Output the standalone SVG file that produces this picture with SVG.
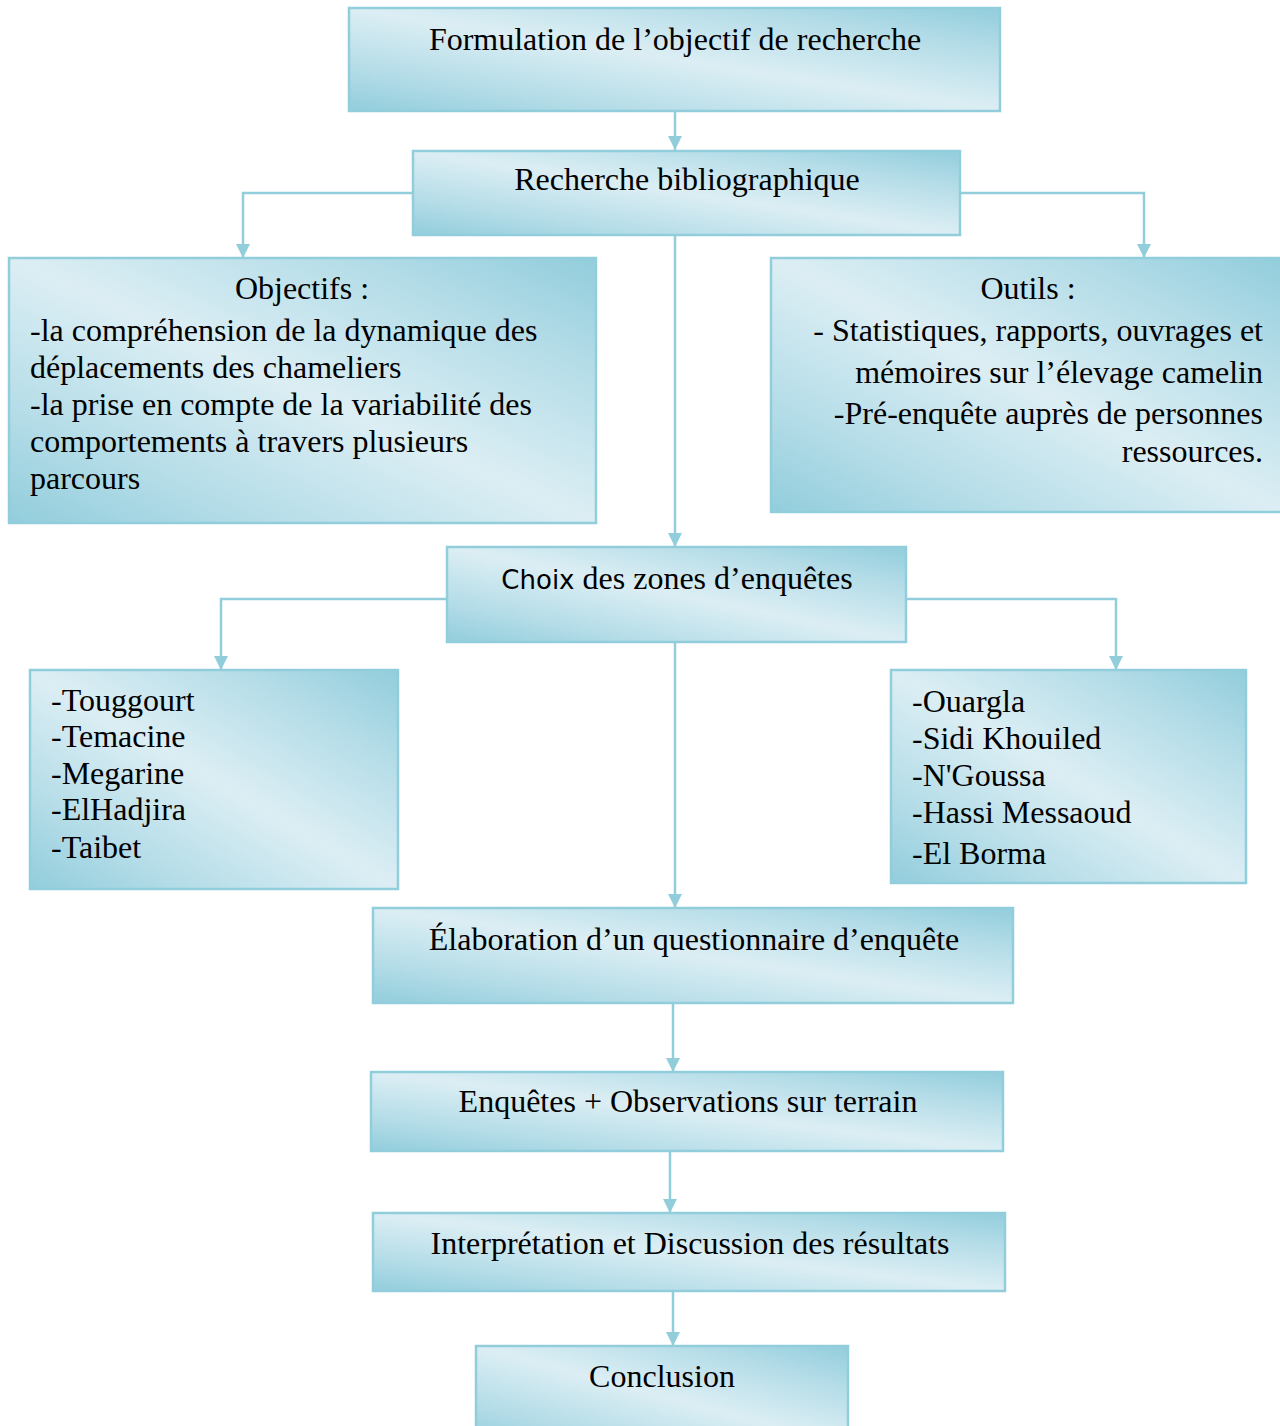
<svg xmlns="http://www.w3.org/2000/svg" width="1280" height="1426" viewBox="0 0 1280 1426">
<defs>
<linearGradient id="grad" x1="1" y1="0" x2="0" y2="1">
<stop offset="0" stop-color="#92CDDC"/>
<stop offset="0.22" stop-color="#B5DDE8"/>
<stop offset="0.5" stop-color="#DCEEF4"/>
<stop offset="0.78" stop-color="#B5DDE8"/>
<stop offset="1" stop-color="#92CDDC"/>
</linearGradient>
<marker id="arrow" markerUnits="userSpaceOnUse" markerWidth="14" markerHeight="14" refX="14" refY="7" orient="auto">
<path d="M0,0 L14,7 L0,14 z" fill="#92CDDC"/>
</marker>
<style>
.box { fill: url(#grad); stroke: #92CDDC; stroke-width: 2.5; }
.t { font-family: "Liberation Serif", "Times New Roman", serif; font-size: 32px; fill: #000; }
.c { text-anchor: middle; }
.r { text-anchor: end; }
.s { font-family: "DejaVu Sans", "Liberation Sans", sans-serif; font-size: 26px; }
.conn { fill: none; stroke: #92CDDC; stroke-width: 2.5; marker-end: url(#arrow); }
</style>
</defs>
<rect width="1280" height="1426" fill="#fff"/>
<g id="connectors">
<path class="conn" d="M675,111 L675,150"/>
<path class="conn" d="M413,193 L243,193 L243,258"/>
<path class="conn" d="M960,193 L1144,193 L1144,258"/>
<path class="conn" d="M675,235 L675,547"/>
<path class="conn" d="M447,599 L221,599 L221,670"/>
<path class="conn" d="M906,599 L1116,599 L1116,670"/>
<path class="conn" d="M675,642 L675,908"/>
<path class="conn" d="M673,1003 L673,1072"/>
<path class="conn" d="M670,1151 L670,1213"/>
<path class="conn" d="M673,1291 L673,1346"/>
</g>
<g id="n-formulation">
<rect class="box" x="349" y="8" width="651" height="103"/>
<text class="t c" x="675" y="50">Formulation de l’objectif de recherche</text>
</g>
<g id="n-recherche">
<rect class="box" x="413" y="151" width="547" height="84"/>
<text class="t c" x="687" y="190">Recherche bibliographique</text>
</g>
<g id="n-objectifs">
<rect class="box" x="9" y="258" width="587" height="265"/>
<text class="t c" x="302" y="299">Objectifs :</text>
<text class="t" x="30" y="341">-la compréhension de la dynamique des</text>
<text class="t" x="30" y="378">déplacements des chameliers</text>
<text class="t" x="30" y="415">-la prise en compte de la variabilité des</text>
<text class="t" x="30" y="452">comportements à travers plusieurs</text>
<text class="t" x="30" y="489">parcours</text>
</g>
<g id="n-outils">
<rect class="box" x="771" y="258" width="512" height="254"/>
<text class="t c" x="1028" y="299">Outils :</text>
<text class="t r" x="1263" y="341">- Statistiques, rapports, ouvrages et</text>
<text class="t r" x="1263" y="383">mémoires sur l’élevage camelin</text>
<text class="t r" x="1263" y="424">-Pré-enquête auprès de personnes</text>
<text class="t r" x="1263" y="462">ressources.</text>
</g>
<g id="n-choix">
<rect class="box" x="447" y="547" width="459" height="95"/>
<text class="t c" x="677" y="589"><tspan class="s">Choix</tspan> des zones d’enquêtes</text>
</g>
<g id="n-zones-gauche">
<rect class="box" x="30" y="670" width="368" height="219"/>
<text class="t" x="51" y="711">-Touggourt</text>
<text class="t" x="51" y="747">-Temacine</text>
<text class="t" x="51" y="784">-Megarine</text>
<text class="t" x="51" y="820">-ElHadjira</text>
<text class="t" x="51" y="858">-Taibet</text>
</g>
<g id="n-zones-droite">
<rect class="box" x="891" y="670" width="355" height="213"/>
<text class="t" x="912" y="712">-Ouargla</text>
<text class="t" x="912" y="749">-Sidi Khouiled</text>
<text class="t" x="912" y="786">-N'Goussa</text>
<text class="t" x="912" y="823">-Hassi Messaoud</text>
<text class="t" x="912" y="864">-El Borma</text>
</g>
<g id="n-elaboration">
<rect class="box" x="373" y="908" width="640" height="95"/>
<text class="t c" x="694" y="950">Élaboration d’un questionnaire d’enquête</text>
</g>
<g id="n-enquetes">
<rect class="box" x="371" y="1072" width="632" height="79"/>
<text class="t c" x="688" y="1112">Enquêtes + Observations sur terrain</text>
</g>
<g id="n-interpretation">
<rect class="box" x="373" y="1213" width="632" height="78"/>
<text class="t c" x="690" y="1254">Interprétation et Discussion des résultats</text>
</g>
<g id="n-conclusion">
<rect class="box" x="476" y="1346" width="372" height="100"/>
<text class="t c" x="662" y="1387">Conclusion</text>
</g>
</svg>
